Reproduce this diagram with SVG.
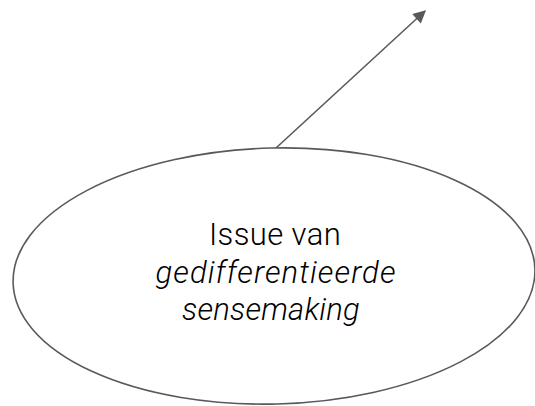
<svg xmlns="http://www.w3.org/2000/svg" width="535" height="406" viewBox="0 0 535 406">
<style>
.conn{stroke:#595959;stroke-width:1.6;fill:none}
.shape{fill:#fff;stroke:#595959;stroke-width:1.6}
.lbl{font-family:Roboto,"Open Sans","Liberation Sans",sans-serif;font-weight:300;font-size:31px;fill:#000;text-anchor:middle}
.it{font-style:italic;font-size:31px}
</style>
<defs>
<marker id="ah" viewBox="0 0 10 10" refX="9" refY="5" markerWidth="9" markerHeight="8" markerUnits="strokeWidth" orient="auto">
<path d="M0,0 L10,5 L0,10 z" fill="#595959"/>
</marker>
</defs>
<g id="connectors">
<line class="conn" x1="276" y1="148" x2="425" y2="11" marker-end="url(#ah)"/>
</g>
<g id="issue">
<ellipse class="shape" cx="274" cy="276" rx="261" ry="128" transform="rotate(-1.5 274 276)"/>
<text class="lbl"><tspan x="275" y="245" letter-spacing="0.4">Issue van</tspan><tspan class="it" x="276" y="283" letter-spacing="1.1">gedifferentieerde</tspan><tspan class="it" x="271" y="320" letter-spacing="0.2">sensemaking</tspan></text>
</g>
</svg>
